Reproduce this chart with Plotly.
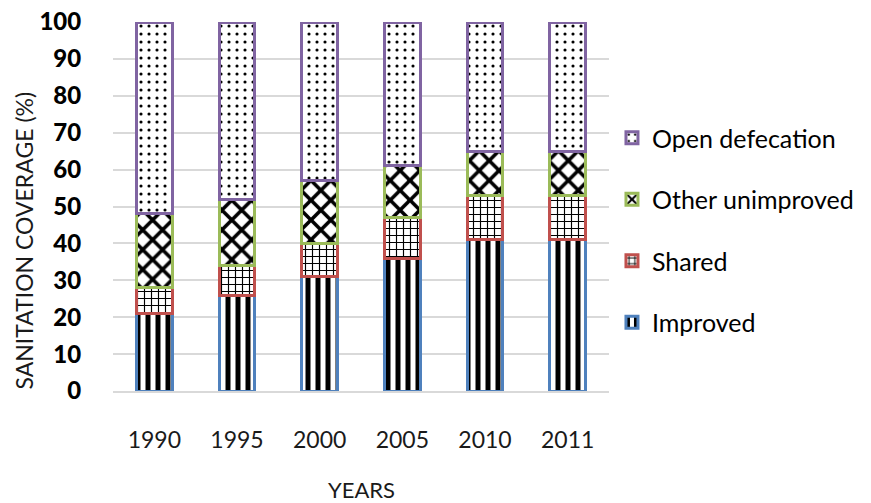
import plotly.graph_objects as go

# Sanitation coverage by year (%), stacked from the bottom up
years = ["1990", "1995", "2000", "2005", "2010", "2011"]
improved = [21, 26, 31, 36, 41, 41]
shared = [7, 8, 9, 11, 12, 12]
other_unimproved = [20, 18, 17, 14, 12, 12]
open_defecation = [52, 48, 43, 39, 35, 35]

y_ticks = list(range(0, 101, 10))

FONT = "Lato"

# name, values, outline colour, fill pattern, legend position (1 = top)
series = [
    ("Improved", improved, "#4F81BD", dict(shape="|", size=10, solidity=0.5), 4),
    ("Shared", shared, "#C0504D", dict(shape="+", size=7, solidity=0.3), 3),
    ("Other unimproved", other_unimproved, "#9BBB59", dict(shape="x", size=14, solidity=0.45), 2),
    ("Open defecation", open_defecation, "#8064A2", dict(shape=".", size=8, solidity=0.12), 1),
]

fig = go.Figure()
for name, values, edge, pat, rank in series:
    fig.add_trace(go.Bar(
        x=years,
        y=values,
        name=name,
        legendgroup=name,
        legendrank=rank,
        marker=dict(
            color="white",
            line=dict(color=edge, width=3),
            pattern=dict(fgcolor="black", bgcolor="white", fillmode="replace", **pat),
        ),
    ))

fig.update_layout(
    width=871,
    height=503,
    barmode="stack",
    bargap=0.57,
    paper_bgcolor="white",
    plot_bgcolor="white",
    margin=dict(l=113, r=258, t=22, b=112),
    font=dict(family=FONT, color="#000000"),
    legend=dict(
        x=1.006, y=0.436, xanchor="left", yanchor="middle",
        traceorder="grouped",
        tracegroupgap=26,
        font=dict(family=FONT, size=25, color="#000000"),
    ),
    xaxis=dict(
        type="category",
        automargin=False,
        showline=True, linecolor="#D9D9D9", linewidth=1.5,
        ticks="outside", ticklen=28, tickcolor="rgba(0,0,0,0)",
        tickfont=dict(family=FONT, size=23, color="#1a1a1a"),
        showgrid=False,
    ),
    yaxis=dict(
        range=[0, 100],
        automargin=False,
        tickvals=y_ticks,
        showgrid=True, gridcolor="#D9D9D9", gridwidth=1.5,
        zeroline=False,
        ticks="outside", ticklen=26, tickcolor="rgba(0,0,0,0)",
        tickfont=dict(family=FONT + " Black, " + FONT, size=24, color="#000000", weight="bold"),
    ),
    annotations=[
        dict(text="YEARS", xref="paper", yref="paper", x=0.5, y=-0.268,
             xanchor="center", yanchor="middle",
             showarrow=False, font=dict(family=FONT, size=22, color="#1a1a1a")),
        dict(text="SANITATION COVERAGE (%)", xref="paper", yref="paper", x=-0.18, y=0.407,
             xanchor="center", yanchor="middle",
             textangle=-90, showarrow=False, font=dict(family=FONT, size=23, color="#1a1a1a")),
    ],
)

fig.write_html("out.html")
